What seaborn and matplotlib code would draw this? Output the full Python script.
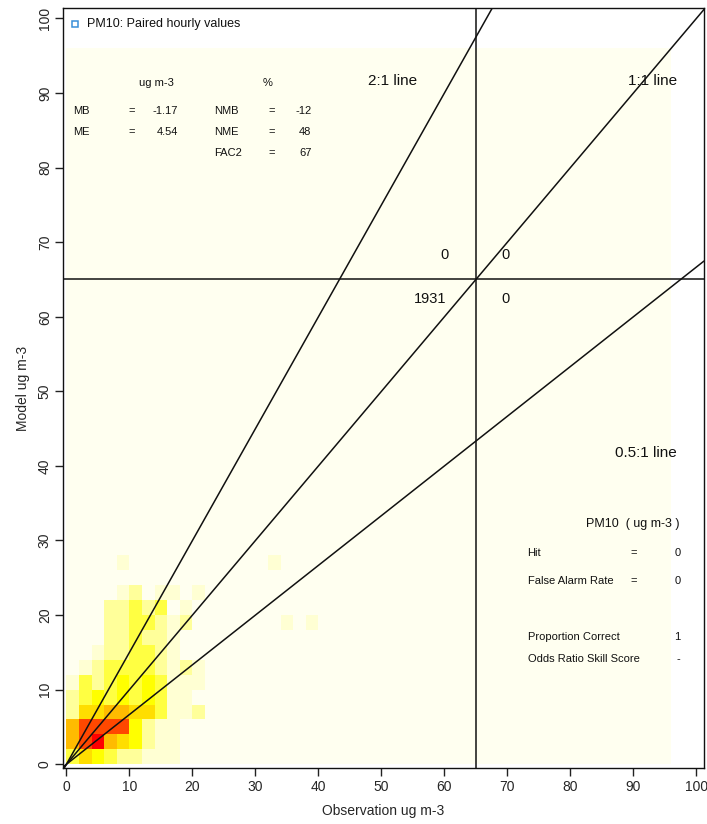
import numpy as np
import matplotlib
matplotlib.use("Agg")
import matplotlib.pyplot as plt
from matplotlib.colors import LinearSegmentedColormap
import seaborn as sns

# binned density (0-100 scale) of paired hourly values, 2 ug m-3 bins
# rows: model bins from 26-28 (top) down to 0-2 (bottom); columns: obs bins 0-2 ... 38-40
density_rows = [
    [0, 0, 0, 0, 4, 0, 0, 0, 0, 0, 0, 0, 0, 0, 0, 0, 4, 0, 0, 0],
    [0, 0, 0, 0, 0, 0, 0, 0, 0, 0, 0, 0, 0, 0, 0, 0, 0, 0, 0, 0],
    [0, 0, 0, 0, 4, 12, 0, 4, 4, 0, 4, 0, 0, 0, 0, 0, 0, 0, 0, 0],
    [0, 0, 0, 12, 12, 24, 12, 24, 0, 4, 0, 0, 0, 0, 0, 0, 0, 0, 0, 0],
    [0, 0, 0, 12, 12, 24, 24, 12, 4, 12, 0, 0, 0, 0, 0, 0, 0, 4, 0, 4],
    [0, 0, 0, 12, 12, 24, 12, 12, 4, 0, 0, 0, 0, 0, 0, 0, 0, 0, 0, 0],
    [0, 0, 4, 12, 12, 24, 24, 12, 4, 0, 0, 0, 0, 0, 0, 0, 0, 0, 0, 0],
    [0, 4, 12, 24, 24, 24, 24, 12, 4, 12, 4, 0, 0, 0, 0, 0, 0, 0, 0, 0],
    [4, 24, 12, 24, 33, 24, 33, 24, 4, 4, 4, 0, 0, 0, 0, 0, 0, 0, 0, 0],
    [12, 24, 33, 24, 33, 24, 33, 24, 4, 4, 0, 0, 0, 0, 0, 0, 0, 0, 0, 0],
    [12, 45, 45, 58, 58, 45, 45, 24, 4, 4, 12, 0, 0, 0, 0, 0, 0, 0, 0, 0],
    [58, 85, 85, 85, 85, 33, 12, 4, 4, 0, 0, 0, 0, 0, 0, 0, 0, 0, 0, 0],
    [58, 85, 100, 58, 45, 33, 12, 4, 4, 0, 0, 0, 0, 0, 0, 0, 0, 0, 0, 0],
    [24, 45, 33, 24, 12, 12, 4, 4, 4, 0, 0, 0, 0, 0, 0, 0, 0, 0, 0, 0],
]
bin_width = 2
grid_max = 96

# reference lines drawn through the origin (labelled 2:1, 1:1, 0.5:1)
line_slopes = [1.5, 1.0, 1 / 1.5]
threshold = 65

ticks = list(range(0, 101, 10))

stats_left = [("MB", "-1.17"), ("ME", "4.54")]
stats_pct = [("NMB", "-12"), ("NME", "48"), ("FAC2", "67")]
contingency = {"upper_left": "0", "upper_right": "0", "lower_left": "1931", "lower_right": "0"}
skill_scores = [("Hit", "=", "0"), ("False Alarm Rate", "=", "0"),
                ("Proportion Correct", "", "1"), ("Odds Ratio Skill Score", "", "-")]

# build bin centres + weights from the grid
dens = np.array(density_rows[::-1], dtype=float)
jj, ii = np.nonzero(dens)
xs = ii * bin_width + bin_width / 2
ys = jj * bin_width + bin_width / 2
ws = dens[jj, ii]

sns.set_theme(style="ticks")
plt.rcParams["font.family"] = ["Liberation Sans", "DejaVu Sans"]

fig = plt.figure(figsize=(7.07, 8.24), dpi=100)
ax = fig.add_axes([0.0891, 0.068, 0.9066, 0.9223])

cmap = LinearSegmentedColormap.from_list(
    "heat", [(0, "#FFFFF0"), (0.33, "#FFFF00"), (0.66, "#FFA500"), (1.0, "#FF0000")]
)
sns.histplot(
    x=xs, y=ys, weights=ws, binwidth=bin_width,
    binrange=((0, grid_max), (0, grid_max)), thresh=None,
    cmap=cmap, vmin=0, vmax=100, ax=ax,
)

for s in line_slopes:
    ax.axline((0, 0), slope=s, color="#111111", lw=1.1)
ax.axhline(threshold, color="#111111", lw=1.1)
ax.axvline(threshold, color="#111111", lw=1.1)

ax.set_xlim(-0.55, 101.2)
ax.set_ylim(-0.5, 101.4)
ax.set_xticks(ticks)
ax.set_yticks(ticks)
ax.set_xticklabels([str(t) for t in ticks], fontsize=10)
ax.set_yticklabels([str(t) for t in ticks], fontsize=10, rotation=90, va="center")
ax.tick_params(direction="out", length=6, width=1, color="#222222")
ax.tick_params(axis="x", pad=3)
ax.tick_params(axis="y", pad=2)
for sp in ax.spines.values():
    sp.set_visible(True)
    sp.set_color("#111111")
    sp.set_linewidth(1)
ax.set_xlabel("Observation ug m-3", fontsize=10, labelpad=7)
ax.set_ylabel("Model ug m-3", fontsize=10, labelpad=6)

txt = dict(color="#111111")
# key
ax.plot([1.3], [99.2], marker="s", mfc="none", mec="#3a8fd8", ms=5, mew=1.1)
ax.text(3.2, 99.2, "PM10: Paired hourly values", fontsize=9, va="center", ha="left", **txt)

# model evaluation stats
fs = 8
ax.text(14.3, 91.4, "ug m-3", fontsize=fs, ha="center", va="center", **txt)
ax.text(32.0, 91.4, "%", fontsize=fs, ha="center", va="center", **txt)
rows_y = [87.6, 84.8, 82.0]
for (name, val), yv in zip(stats_left, rows_y):
    ax.text(1.0, yv, name, fontsize=fs, ha="left", va="center", **txt)
    ax.text(10.4, yv, "=", fontsize=fs, ha="center", va="center", **txt)
    ax.text(17.7, yv, val, fontsize=fs, ha="right", va="center", **txt)
for (name, val), yv in zip(stats_pct, rows_y):
    ax.text(23.4, yv, name, fontsize=fs, ha="left", va="center", **txt)
    ax.text(32.6, yv, "=", fontsize=fs, ha="center", va="center", **txt)
    ax.text(38.9, yv, val, fontsize=fs, ha="right", va="center", **txt)

# line labels
ax.text(51.8, 91.6, "2:1 line", fontsize=11, ha="center", va="center", **txt)
ax.text(93.1, 91.6, "1:1 line", fontsize=11, ha="center", va="center", **txt)
ax.text(92.0, 41.7, "0.5:1 line", fontsize=11, ha="center", va="center", **txt)

# contingency counts
ax.text(60.0, 68.3, contingency["upper_left"], fontsize=10.5, ha="center", va="center", **txt)
ax.text(69.7, 68.3, contingency["upper_right"], fontsize=10.5, ha="center", va="center", **txt)
ax.text(57.8, 62.4, contingency["lower_left"], fontsize=10.5, ha="center", va="center", **txt)
ax.text(69.7, 62.4, contingency["lower_right"], fontsize=10.5, ha="center", va="center", **txt)

# skill scores
ax.text(97.3, 32.2, "PM10  ( ug m-3 )", fontsize=9, ha="right", va="center", **txt)
for (name, eq, val), yv in zip(skill_scores, [28.3, 24.6, 17.1, 14.1]):
    ax.text(73.2, yv, name, fontsize=fs, ha="left", va="center", **txt)
    if eq:
        ax.text(90.0, yv, eq, fontsize=fs, ha="center", va="center", **txt)
    ax.text(97.5, yv, val, fontsize=fs, ha="right", va="center", **txt)

fig.savefig("out.png", dpi=100)
